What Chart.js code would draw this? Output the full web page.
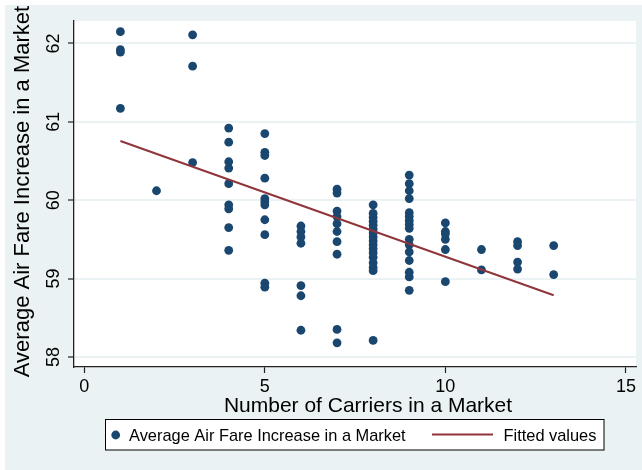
<!DOCTYPE html>
<html><head><meta charset="utf-8">
<style>html,body{margin:0;padding:0;background:#fff;}#wrap{width:642px;height:470px;position:relative}canvas{display:block}</style>
<script src="https://cdn.jsdelivr.net/npm/chart.js@4/dist/chart.umd.min.js"></script>
</head><body><div id="wrap"><canvas id="c" width="642" height="470"></canvas></div>
<script>
// ---- data ----
const carriers = [
  1,1,1,1,
  2,
  3,3,3,
  4,4,4,4,4,4,4,4,4,
  5,5,5,5,5,5,5,5,5,5,5,
  6,6,6,6,6,6,6,
  7,7,7,7,7,7,7,7,7,7,
  8,8,8,8,8,8,8,8,8,8,8,8,8,8,8,8,8,
  9,9,9,9,9,9,9,9,9,9,9,9,9,9,9,9,
  10,10,10,10,10,10,
  11,11,
  12,12,12,12,
  13,13
];
const fareIncrease = [
  62.15,61.92,61.89,61.17,
  60.12,
  62.11,61.71,60.48,
  60.92,60.74,60.49,60.41,60.21,59.94,59.89,59.65,59.36,
  60.85,60.61,60.57,60.28,60.02,59.98,59.94,59.75,59.56,58.94,58.89,
  59.67,59.60,59.53,59.45,58.91,58.78,58.34,
  60.14,60.09,59.86,59.79,59.70,59.60,59.47,59.31,58.35,58.18,
  59.94,59.83,59.78,59.73,59.68,59.63,59.58,59.53,59.48,59.43,59.38,59.33,59.27,59.20,59.14,59.10,58.21,
  60.32,60.21,60.12,60.02,59.84,59.79,59.74,59.69,59.64,59.50,59.43,59.34,59.23,59.08,59.02,58.85,
  59.71,59.60,59.57,59.50,59.37,58.96,
  59.37,59.11,
  59.47,59.42,59.21,59.12,
  59.42,59.05
];
const fitCarriers = [1, 13];
const fitValues = [60.754, 58.787];
const xTicks = [0, 5, 10, 15];
const yTicks = [58, 59, 60, 61, 62];
const xTitle = 'Number of Carriers in a Market';
const yTitle = 'Average Air Fare Increase in a Market';
const seriesNames = ['Average Air Fare Increase in a Market', 'Fitted values'];

// ---- styling ----
const FONT = "'Liberation Sans', Arial, Helvetica, sans-serif";
const NAVY = '#1a476f', MAROON = '#90353b', BG = '#eaf2f3', AXIS = '#222222';

const scatterPts = carriers.map((c, i) => ({x: c, y: fareIncrease[i]}));
const fitPts = fitCarriers.map((c, i) => ({x: c, y: fitValues[i]}));

const bgPlugin = {
  id: 'bg',
  beforeDraw(chart) {
    const {ctx, chartArea: a} = chart;
    ctx.save();
    ctx.fillStyle = '#ffffff';
    ctx.fillRect(0, 0, chart.width, chart.height);
    ctx.fillStyle = BG;
    ctx.fillRect(5, 5, chart.width - 5, chart.height - 5);
    ctx.fillStyle = '#ffffff';
    ctx.fillRect(a.left, a.top, a.right - a.left, a.bottom - a.top);
    ctx.restore();
  }
};

const decorPlugin = {
  id: 'decor',
  afterDraw(chart) {
    const ctx = chart.ctx;
    ctx.save();
    ctx.fillStyle = '#000';
    // x title
    ctx.font = '21px ' + FONT;
    ctx.textAlign = 'center';
    ctx.textBaseline = 'alphabetic';
    ctx.fillText(xTitle, 368, 412);
    // y title
    ctx.save();
    ctx.translate(29, 191.5);
    ctx.rotate(-Math.PI / 2);
    ctx.font = '22px ' + FONT;
    ctx.fillText(yTitle, 0, 0);
    ctx.restore();
    // legend box
    ctx.fillStyle = '#ffffff';
    ctx.fillRect(105.5, 419.5, 498.5, 30.5);
    ctx.strokeStyle = '#000';
    ctx.lineWidth = 1;
    ctx.strokeRect(105.5, 419.5, 498.5, 30.5);
    const ds = chart.data.datasets;
    // marker item
    ctx.fillStyle = ds[0].backgroundColor;
    ctx.beginPath();
    ctx.arc(115.7, 435, 4.4, 0, Math.PI * 2);
    ctx.fill();
    ctx.fillStyle = '#000';
    ctx.font = '16.4px ' + FONT;
    ctx.textAlign = 'left';
    ctx.textBaseline = 'alphabetic';
    ctx.fillText(ds[0].label, 129, 441);
    // line item
    ctx.strokeStyle = ds[1].borderColor;
    ctx.lineWidth = 2;
    ctx.beginPath();
    ctx.moveTo(432, 434.5);
    ctx.lineTo(493, 434.5);
    ctx.stroke();
    ctx.fillText(ds[1].label, 503.5, 441);
    ctx.restore();
  }
};

new Chart(document.getElementById('c'), {
  type: 'scatter',
  data: {
    datasets: [
      {
        label: seriesNames[0],
        data: scatterPts,
        backgroundColor: NAVY,
        borderWidth: 0,
        pointRadius: 4.4,
        pointHoverRadius: 4.4,
        order: 1
      },
      {
        label: seriesNames[1],
        data: fitPts,
        showLine: true,
        borderColor: MAROON,
        backgroundColor: MAROON,
        borderWidth: 2,
        pointRadius: 0,
        pointHoverRadius: 0,
        fill: false,
        order: 0
      }
    ]
  },
  options: {
    responsive: false,
    animation: false,
    devicePixelRatio: 1,
    events: [],
    layout: {padding: {top: 21, right: 6, left: 0, bottom: 0}},
    plugins: {legend: {display: false}, tooltip: {enabled: false}},
    scales: {
      x: {
        type: 'linear',
        min: -0.285,
        max: 15.28,
        afterBuildTicks: s => { s.ticks = xTicks.map(v => ({value: v})); },
        afterFit: s => { s.height = 103; },
        grid: {drawOnChartArea: false, drawTicks: true, tickLength: 6, tickColor: AXIS, tickWidth: 1.2},
        border: {color: AXIS, width: 1.3},
        ticks: {font: {size: 18, family: FONT}, color: '#000', padding: 3, maxRotation: 0, minRotation: 0, autoSkip: false}
      },
      y: {
        type: 'linear',
        min: 57.871,
        max: 62.286,
        afterBuildTicks: s => { s.ticks = yTicks.map(v => ({value: v})); },
        afterFit: s => { s.width = 74; },
        grid: {color: BG, lineWidth: 2, drawTicks: true, tickLength: 6, tickColor: AXIS, tickWidth: 1.2},
        border: {color: AXIS, width: 1.3},
        ticks: {font: {size: 18, family: FONT}, color: '#000', padding: 4, minRotation: 90, maxRotation: 90, crossAlign: 'center', autoSkip: false}
      }
    }
  },
  plugins: [bgPlugin, decorPlugin]
});
</script></body></html>
